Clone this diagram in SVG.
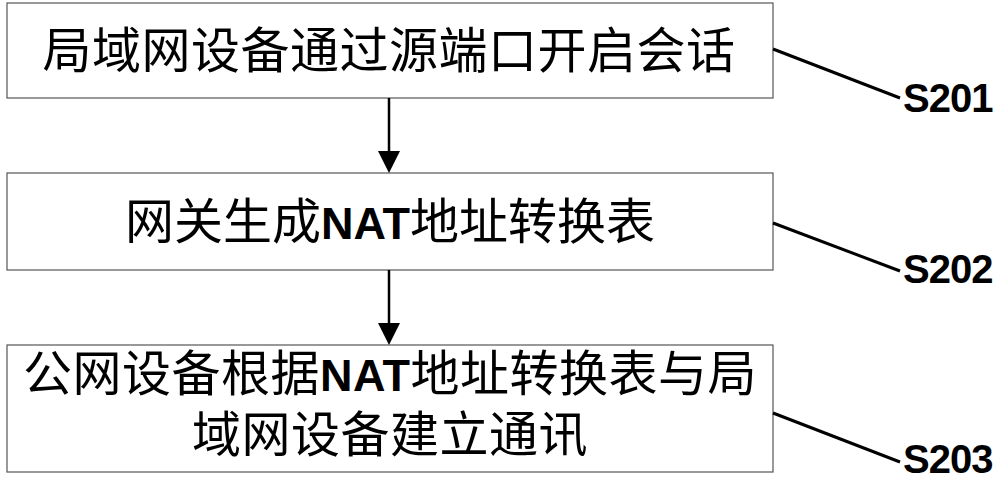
<svg xmlns="http://www.w3.org/2000/svg" width="1000" height="483" viewBox="0 0 1000 483">
  <style>
    .box { fill: #fff; stroke: #555; stroke-width: 1.2; }
    .txt { font-family: "Noto Sans CJK SC", "Liberation Sans", sans-serif; font-size: 49px; fill: #000; text-anchor: middle; }
    .lat { font-family: "Liberation Sans", Arial, sans-serif; font-weight: bold; font-size: 45px; }
    .lbl { font-family: "Liberation Sans", Arial, sans-serif; font-weight: bold; font-size: 40px; fill: #000; letter-spacing: -1px; }
    .lead { stroke: #000; stroke-width: 3; fill: none; }
    .flow { stroke: #000; stroke-width: 2.5; fill: none; }
    .head { fill: #000; }
  </style>
  <rect x="0" y="0" width="1000" height="483" fill="#fff"/>
  <g id="node-s201">
    <rect class="box" x="7" y="3" width="766" height="95"/>
    <text class="txt" x="389" y="68" letter-spacing="0.5">局域网设备通过源端口开启会话</text>
  </g>
  <g id="node-s202">
    <rect class="box" x="7" y="173" width="766" height="97"/>
    <text class="txt" x="390" y="239">网关生成<tspan class="lat">NAT</tspan>地址转换表</text>
  </g>
  <g id="node-s203">
    <rect class="box" x="7" y="345" width="766" height="127"/>
    <text class="txt" x="390" y="391" letter-spacing="0.5">公网设备根据<tspan class="lat">NAT</tspan>地址转换表与局</text>
    <text class="txt" x="390" y="452" letter-spacing="0.5">域网设备建立通讯</text>
  </g>
  <g id="labels">
    <text class="lbl" x="903" y="112">S201</text>
    <text class="lbl" x="903" y="283">S202</text>
    <text class="lbl" x="903" y="473">S203</text>
  </g>
  <g id="connectors">
    <line class="flow" x1="389" y1="98" x2="389" y2="156"/>
    <polygon class="head" points="378,151 400,151 389,173"/>
    <line class="flow" x1="389" y1="270" x2="389" y2="328"/>
    <polygon class="head" points="378,323 400,323 389,345"/>
    <line class="lead" x1="773" y1="49" x2="900" y2="98"/>
    <line class="lead" x1="773" y1="223" x2="900" y2="271"/>
    <line class="lead" x1="773" y1="413" x2="900" y2="462"/>
  </g>
</svg>
